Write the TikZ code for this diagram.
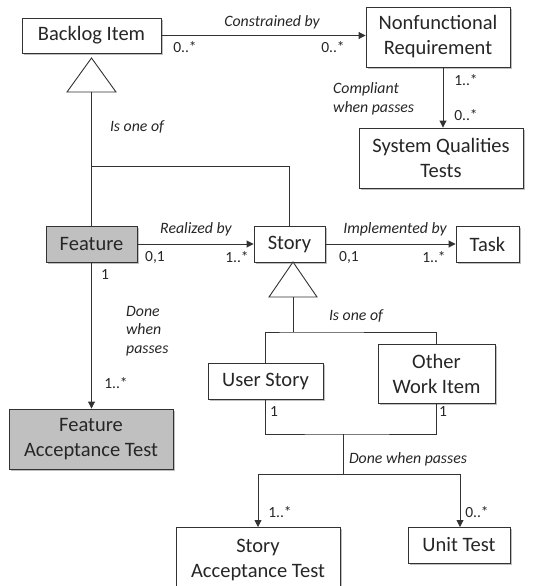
\documentclass[tikz,border=0pt]{standalone}
\usepackage{fontspec}
\setmainfont{Carlito}
\usetikzlibrary{arrows.meta,shadows}

\definecolor{ink}{RGB}{38,38,38}
\definecolor{edge}{RGB}{50,50,50}
\definecolor{featfill}{RGB}{192,192,192}

\tikzset{
  cls/.style={draw=edge, line width=0.9pt, fill=white, text=ink, align=center,
    inner sep=0pt, font=\fontsize{20.5}{25}\selectfont,
    drop shadow={shadow xshift=2pt, shadow yshift=-2pt, opacity=0.25, fill=black}},
  grayc/.style={cls, fill=featfill},
  rel/.style={text=ink, font=\fontsize{15.8}{18.5}\selectfont\itshape, inner sep=0pt},
  mult/.style={text=ink, font=\fontsize{15.5}{18}\selectfont, inner sep=0pt},
  conn/.style={draw=edge, line width=0.9pt},
  arr/.style={conn, -{Triangle[length=7pt,width=7pt]}},
  gen/.style={draw=edge, line width=0.9pt, fill=white},
}

\begin{document}
\begin{tikzpicture}[x=1pt,y=-1pt]
\useasboundingbox (0,0) rectangle (534,586);
\clip (0,0) rectangle (534,586);

% classes
\node[cls, minimum width=139pt, minimum height=35pt] (backlog) at (91.5,35.5) {Backlog Item};
\node[cls, minimum width=144pt, minimum height=60pt] (nfr) at (438,37) {Nonfunctional\\Requirement};
\node[cls, minimum width=164pt, minimum height=60pt] (sqt) at (441,158) {System Qualities\\Tests};
\node[grayc, minimum width=91pt, minimum height=36pt] (feature) at (91.5,244) {Feature};
\node[cls, minimum width=71pt, minimum height=36pt] (story) at (289.5,244) {Story};
\node[cls, minimum width=63pt, minimum height=36pt] (task) at (487.5,244) {Task};
\node[cls, minimum width=115pt, minimum height=36pt] (userstory) at (265.5,381) {User Story};
\node[cls, minimum width=117pt, minimum height=59pt] (other) at (436.5,373.5) {Other\\Work Item};
\node[grayc, minimum width=164pt, minimum height=60pt] (fat) at (91,439) {Feature\\Acceptance Test};
\node[cls, minimum width=164pt, minimum height=66pt] (sat) at (258,560) {Story\\Acceptance Test};
\node[cls, minimum width=102pt, minimum height=36pt] (unit) at (459,545) {Unit Test};

% generalisation: Backlog Item <- Feature, Story
\coordinate (t1apex) at (91.5,58);
\coordinate (t1base) at (91.5,92);
\draw[gen] (t1apex) -- (67,92) -- (116,92) -- cycle;
\coordinate (j1) at (91.5,166);
\draw[conn] (t1base) -- (feature.north);
\draw[conn] (j1) -| (story.north);
\node[rel] (isone1) at (137,127) {Is one of};

% generalisation: Story <- User Story, Other Work Item
\coordinate (t2apex) at (293,262);
\coordinate (t2base) at (293,297);
\draw[gen] (t2apex) -- (269,297) -- (317,297) -- cycle;
\coordinate (j2) at (293,332);
\draw[conn] (t2base) -- (j2);
\draw[conn] (userstory.north) |- (j2) -| (other.north);
\node[rel] (isone2) at (356,316) {Is one of};

% Backlog Item -> Nonfunctional Requirement
\draw[arr] (backlog.east) -- (backlog.east -| nfr.west);
\node[rel] (lcons) at (272,22) {Constrained by};
\node[mult] (m1) at (185,47) {0..*};
\node[mult] (m2) at (333,47) {0..*};

% Nonfunctional Requirement -> System Qualities Tests
\coordinate (nfrbot) at (443,67);
\draw[arr] (nfrbot) -- (nfrbot |- sqt.north);
\node[rel, align=left, anchor=west] (lcomp) at (333,99) {Compliant\\when passes};
\node[mult] (m3) at (466,80) {1..*};
\node[mult] (m4) at (466,115) {0..*};

% Feature -> Story -> Task
\draw[arr] (feature.east) -- (story.west);
\node[rel] (lreal) at (196,229) {Realized by};
\node[mult] (m5) at (155,257) {0,1};
\node[mult] (m6) at (237,257) {1..*};
\draw[arr] (story.east) -- (task.west);
\node[rel] (limpl) at (395,229) {Implemented by};
\node[mult] (m7) at (349,257) {0,1};
\node[mult] (m8) at (434,257) {1..*};

% Feature -> Feature Acceptance Test
\draw[arr] (feature.south) -- (feature.south |- fat.north);
\node[mult] (m9) at (105,275) {1};
\node[rel, align=left, anchor=west] (ldone1) at (126,331) {Done\\when\\passes};
\node[mult] (m10) at (116,383) {1..*};

% User Story / Other Work Item -> Story Acceptance Test, Unit Test
\coordinate (j3) at (343,434);
\coordinate (j4) at (343,474);
\coordinate (satin) at (258,527);
\coordinate (unitin) at (460,527);
\draw[conn] (userstory.south) |- (j3) -| (other.south);
\draw[conn] (j3) -- (j4);
\draw[arr] (j4) -| (satin);
\draw[arr] (j4) -| (unitin);
\node[mult] (m11) at (274,412) {1};
\node[mult] (m12) at (443,412) {1};
\node[rel] (ldone2) at (408,459) {Done when passes};
\node[mult] (m13) at (280,512) {1..*};
\node[mult] (m14) at (477,512) {0..*};
\end{tikzpicture}
\end{document}
